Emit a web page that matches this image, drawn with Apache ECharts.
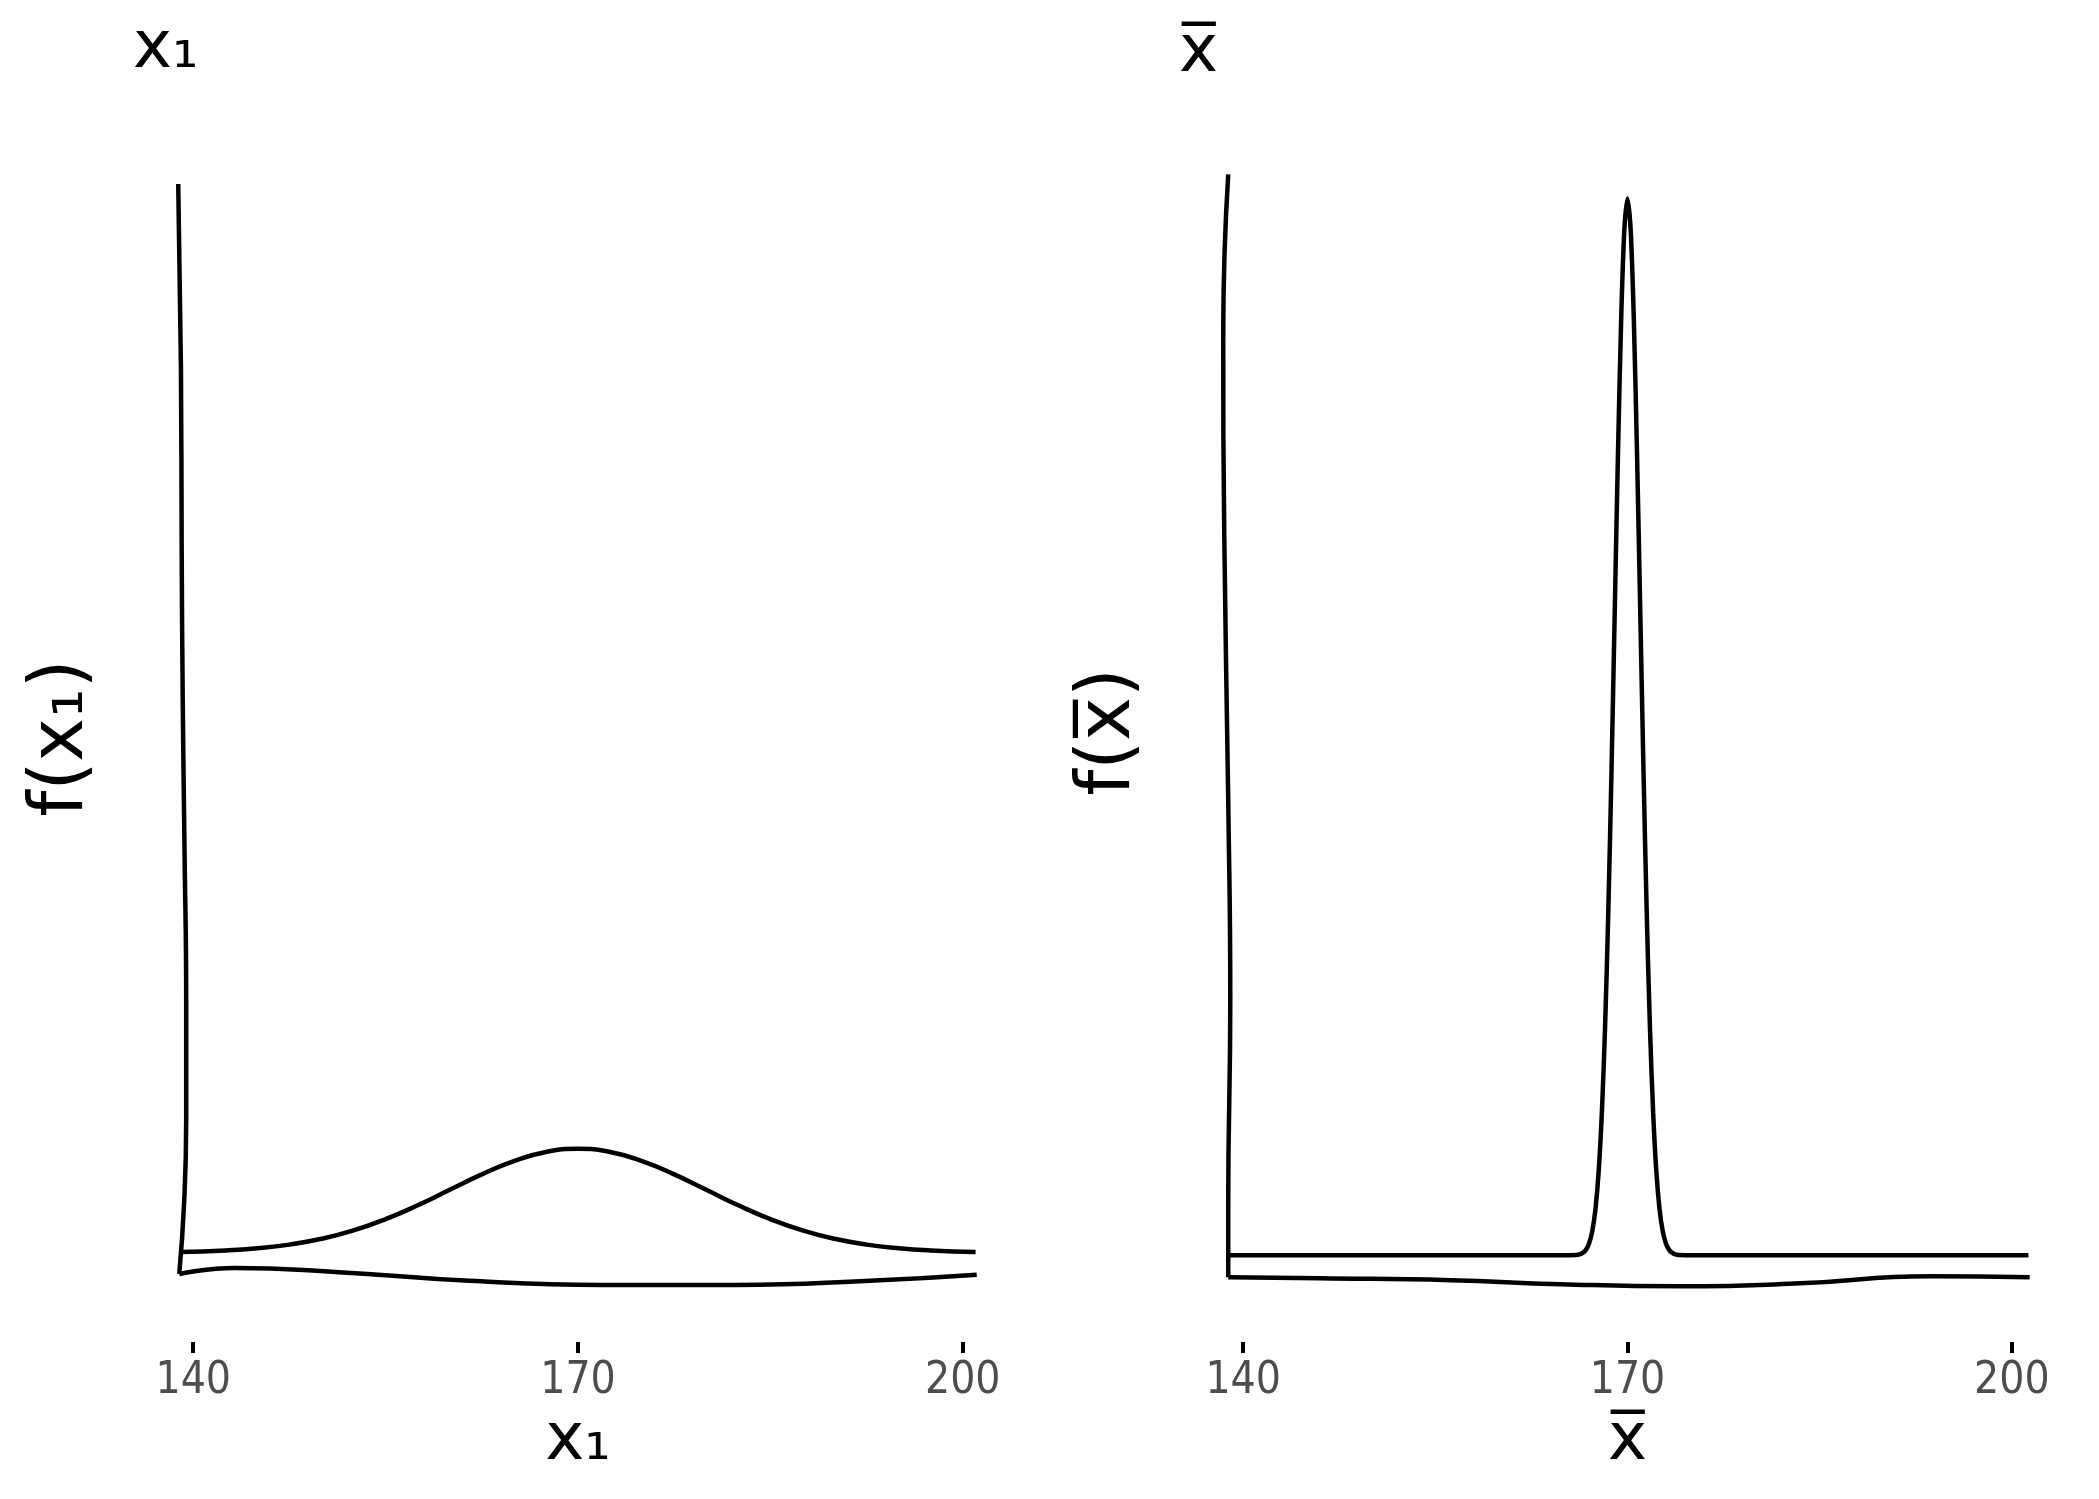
<!DOCTYPE html>
<html>
<head>
<meta charset="utf-8">
<script src="https://cdn.jsdelivr.net/npm/echarts@6/dist/echarts.min.js"></script>
<style>html,body{margin:0;padding:0;background:#fff;}#c{width:2099px;height:1499px;}</style>
</head>
<body>
<div id="c"></div>
<script>
// ---- data ----
const tickValues = [140, 170, 200];
const tickLabels = ['140', '170', '200'];

// left panel: density of x1 (wide bell)
const leftX = [139, 142.5, 145, 147.5, 150, 152.5, 155, 157.5, 160, 162.5, 165, 167.5, 170,
               172.5, 175, 177.5, 180, 182.5, 185, 187.5, 190, 192.5, 195, 197.5, 201];
const leftY = [0.00033, 0.00091, 0.00175, 0.00317, 0.0054, 0.00863, 0.01295, 0.01826, 0.0242, 0.0301, 0.0352, 0.0387, 0.0399,
               0.0387, 0.0352, 0.0301, 0.0242, 0.01826, 0.01295, 0.00863, 0.0054, 0.00317, 0.00175, 0.00091, 0.00033];

// right panel: density of x-bar (narrow spike)
const rightX = [138.7, 150, 160, 164, 165, 166, 166.25, 166.5, 166.75, 167, 167.25, 167.5, 167.75, 168, 168.25, 168.5, 168.75,
                169, 169.25, 169.5, 169.75, 170, 170.25, 170.5, 170.75, 171, 171.25, 171.5, 171.75, 172, 172.25, 172.5,
                172.75, 173, 173.25, 173.5, 173.75, 174, 175, 176, 180, 190, 201.3];
const rightY = [0, 0, 0, 0, 0.000002, 0.000134, 0.000353, 0.000873, 0.00203, 0.00443, 0.00909, 0.0175, 0.0317, 0.054, 0.0863, 0.1295, 0.1826,
                0.242, 0.3011, 0.3521, 0.3867, 0.3989, 0.3867, 0.3521, 0.3011, 0.242, 0.1826, 0.1295, 0.0863, 0.054, 0.0317, 0.0175,
                0.00909, 0.00443, 0.00203, 0.000873, 0.000353, 0.000134, 0.000002, 0, 0, 0, 0];

// hand-drawn axis lines (data units)
const leftYAxisX = [138.83, 139.04, 139.10, 139.18, 139.32, 139.45, 139.45, 139.30, 138.91];
const leftYAxisY = [0.410, 0.3400, 0.2700, 0.2121, 0.1546, 0.0970, 0.0510, 0.0203, -0.0081];
const leftXAxisX = [138.91, 143.19, 151.07, 161.51, 171.87, 182.31, 192.75, 201.09];
const leftXAxisY = [-0.0081, -0.0058, -0.0073, -0.0107, -0.0123, -0.0123, -0.0107, -0.0084];

const rightYAxisX = [138.83, 138.44, 138.52, 138.83, 138.99, 138.83, 138.83];
const rightYAxisY = [0.408, 0.347, 0.272, 0.172, 0.0963, 0.0189, -0.0083];
const rightXAxisX = [138.83, 146.01, 156.15, 164.73, 174.10, 183.46, 193.60, 201.40];
const rightXAxisY = [-0.0083, -0.0087, -0.0094, -0.0109, -0.0117, -0.0106, -0.0079, -0.0083];

const titles = ['x\u2081', 'x\u0305'];
const xNames = ['x\u2081', 'x\u0305'];
const yNames = ['f(x\u2081)', 'f(x\u0305)'];

// ---- chart ----
const zip = (a, b) => a.map((v, i) => [v, b[i]]);
const NAME_FONT = '"DejaVu Sans", sans-serif';
const TICK_FONT = '"Liberation Sans Narrow", "DejaVu Sans Condensed", Lato, sans-serif';
const lineStyle = { color: '#000', width: 4.5 };

function xAxisFor(idx, name, offset) {
  return {
    type: 'value', gridIndex: idx, min: 138.5, max: 201.5, offset: offset,
    name: name, nameLocation: 'middle', nameGap: 50,
    nameTextStyle: { fontFamily: NAME_FONT, fontSize: 66, color: '#000' },
    axisLine: { show: false, onZero: false },
    splitLine: { show: false },
    axisTick: { show: true, inside: false, length: 11, customValues: tickValues, lineStyle: { color: '#000', width: 4 } },
    axisLabel: { show: true, customValues: tickValues, margin: 18, fontFamily: TICK_FONT, fontSize: 44, color: '#4d4d4d',
                 formatter: v => tickLabels[tickValues.indexOf(v)] }
  };
}
function yAxisFor(idx, name, gap) {
  return {
    type: 'value', gridIndex: idx, min: -0.015, max: 0.41,
    name: name, nameLocation: 'middle', nameGap: gap, nameRotate: 90,
    nameTextStyle: { fontFamily: NAME_FONT, fontSize: 74, color: '#000' },
    axisLine: { show: false, onZero: false }, axisTick: { show: false }, axisLabel: { show: false }, splitLine: { show: false }
  };
}
function lineSeries(idx, data, smooth) {
  return { type: 'line', xAxisIndex: idx, yAxisIndex: idx, data: data, smooth: smooth,
           showSymbol: false, symbol: 'none', lineStyle: lineStyle, silent: true, animation: false, clip: false };
}

const chart = echarts.init(document.getElementById('c'), null, { renderer: 'canvas' });
chart.setOption({
  backgroundColor: '#fff',
  animation: false,
  title: [
    { text: titles[0], left: 128, top: 12, textStyle: { fontFamily: NAME_FONT, fontSize: 66, fontWeight: 'normal', color: '#000' } },
    { text: titles[1], left: 1174, top: 16, textStyle: { fontFamily: NAME_FONT, fontSize: 66, fontWeight: 'normal', color: '#000' } }
  ],
  grid: [
    { left: 174, width: 808, top: 184, bottom: 207 },
    { left: 1224, width: 807, top: 169, bottom: 204 }
  ],
  xAxis: [xAxisFor(0, xNames[0], 50), xAxisFor(1, xNames[1], 47)],
  yAxis: [yAxisFor(0, yNames[0], 74), yAxisFor(1, yNames[1], 77)],
  series: [
    lineSeries(0, zip(leftX, leftY), true),
    lineSeries(0, zip(leftYAxisX, leftYAxisY), true),
    lineSeries(0, zip(leftXAxisX, leftXAxisY), true),
    lineSeries(1, zip(rightX, rightY), 0.3),
    lineSeries(1, zip(rightYAxisX, rightYAxisY), true),
    lineSeries(1, zip(rightXAxisX, rightXAxisY), true)
  ]
});
</script>
</body>
</html>
